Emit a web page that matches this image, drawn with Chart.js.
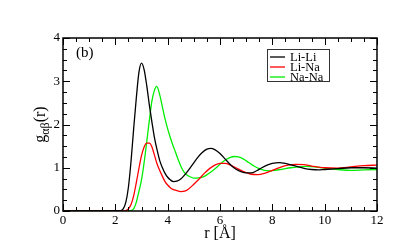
<!DOCTYPE html>
<html><head><meta charset="utf-8">
<script src="https://cdn.jsdelivr.net/npm/chart.js@4/dist/chart.umd.min.js"></script>
<style>html,body{margin:0;padding:0;background:#fff}#wrap{width:407px;height:249px}</style>
</head><body><div id="wrap"><canvas id="c" width="407" height="249"></canvas></div>
<script>
const seriesLabels = ["Li-Li", "Li-Na", "Na-Na"];
const seriesColors = ["#000000", "#ff0000", "#00ee00"];
const xTicks = [0, 2, 4, 6, 8, 10, 12];
const yTicks = [0, 1, 2, 3, 4];

const liLiR = [0,1,2.0,2.2,2.3,2.4,2.5,2.6,2.7,2.8,2.9,3.0,3.1,3.2,3.3,3.4,3.5,3.6,3.7,3.8,3.9,4.0,4.1,4.22,4.35,4.5,4.7,4.9,5.1,5.3,5.5,5.65,5.8,6.0,6.2,6.4,6.6,6.8,7.0,7.2,7.4,7.6,7.8,8.0,8.25,8.5,8.75,9.0,9.25,9.5,9.75,10,10.5,11,11.5,12];
const liLiG = [0,0,0,0.01,0.05,0.2,0.55,1.15,1.9,2.6,3.2,3.42,3.27,2.9,2.45,2.05,1.68,1.4,1.16,1.0,0.87,0.78,0.72,0.68,0.69,0.74,0.87,1.03,1.2,1.34,1.43,1.45,1.42,1.33,1.2,1.07,0.97,0.91,0.88,0.88,0.93,1.0,1.06,1.1,1.12,1.1,1.06,1.02,0.98,0.96,0.95,0.96,0.98,1.0,1.0,0.99];

const liNaR = [0,1,2.3,2.4,2.5,2.6,2.7,2.8,2.9,3.0,3.1,3.2,3.3,3.4,3.5,3.6,3.7,3.8,3.9,4.0,4.1,4.2,4.35,4.5,4.65,4.8,5.0,5.2,5.4,5.6,5.8,6.0,6.2,6.4,6.6,6.8,7.0,7.2,7.45,7.7,8.0,8.3,8.6,8.9,9.2,9.5,10,10.5,11,11.5,12];
const liNaG = [0,0,0,0.01,0.05,0.15,0.35,0.65,0.98,1.28,1.48,1.57,1.57,1.48,1.28,1.08,0.93,0.8,0.68,0.6,0.54,0.5,0.47,0.45,0.46,0.51,0.62,0.74,0.87,0.98,1.06,1.1,1.1,1.06,1.0,0.94,0.89,0.85,0.84,0.87,0.94,1.01,1.06,1.08,1.07,1.04,1.0,0.99,1.02,1.05,1.06];

const naNaR = [0,1,2.5,2.6,2.7,2.8,2.9,3.0,3.1,3.2,3.3,3.4,3.5,3.58,3.7,3.8,3.9,4.0,4.1,4.2,4.3,4.4,4.5,4.6,4.7,4.8,4.9,5.0,5.1,5.25,5.4,5.6,5.8,6.0,6.2,6.4,6.55,6.7,6.9,7.1,7.3,7.5,7.7,7.9,8.1,8.4,8.7,9.0,9.3,9.6,10,10.5,11,11.5,12];
const naNaG = [0,0,0,0.01,0.05,0.2,0.45,0.72,1.12,1.6,2.1,2.55,2.8,2.88,2.68,2.4,2.13,1.9,1.7,1.52,1.36,1.19,1.04,0.92,0.85,0.81,0.78,0.76,0.76,0.77,0.8,0.88,0.97,1.08,1.18,1.24,1.26,1.25,1.2,1.12,1.04,0.98,0.94,0.93,0.94,0.97,1.0,1.02,1.03,1.02,0.99,0.96,0.94,0.95,0.96];

const toPts = (r, g) => r.map((v, i) => ({x: v, y: g[i]}));
const allR = [liLiR, liNaR, naNaR];
const allG = [liLiG, liNaG, naNaG];

const SERIF = "'Liberation Serif','DejaVu Serif',serif";

const decor = {
  id: 'decor',
  afterDraw(chart) {
    const ctx = chart.ctx, a = chart.chartArea;
    const xs = chart.scales.x, ys = chart.scales.y;
    ctx.save();
    ctx.strokeStyle = '#000';
    ctx.lineWidth = 1;
    ctx.beginPath();
    for (let v = 0; v <= 12.0001; v += 0.5) {
      const px = Math.round(xs.getPixelForValue(v)) + 0.5;
      const major = Math.abs(v / 2 - Math.round(v / 2)) < 1e-6;
      const L = major ? 7 : 4;
      ctx.moveTo(px, a.bottom); ctx.lineTo(px, a.bottom - L);
      ctx.moveTo(px, a.top); ctx.lineTo(px, a.top + L);
    }
    for (let v = 0; v <= 4.0001; v += 0.25) {
      const py = Math.round(ys.getPixelForValue(v)) + 0.5;
      const major = Math.abs(v - Math.round(v)) < 1e-6;
      const L = major ? 7 : 4;
      ctx.moveTo(a.left, py); ctx.lineTo(a.left + L, py);
      ctx.moveTo(a.right, py); ctx.lineTo(a.right - L, py);
    }
    ctx.stroke();
    ctx.lineWidth = 1.5;
    ctx.strokeRect(a.left, a.top, a.right - a.left, a.bottom - a.top);
    ctx.fillStyle = '#000';
    ctx.font = '15px ' + SERIF;
    ctx.textBaseline = 'alphabetic';
    ctx.textAlign = 'left';
    ctx.fillText('(b)', 76, 57);
    ctx.lineWidth = 1;
    ctx.strokeStyle = '#333';
    ctx.strokeRect(267.5, 49.5, 62, 32);
    ctx.font = '12.5px ' + SERIF;
    chart.data.datasets.forEach((ds, i) => {
      const y = 57 + i * 10;
      ctx.strokeStyle = ds.borderColor;
      ctx.lineWidth = 1.3;
      ctx.beginPath(); ctx.moveTo(270, y); ctx.lineTo(285, y); ctx.stroke();
      ctx.fillStyle = '#000';
      ctx.textBaseline = 'middle';
      ctx.fillText(ds.label, 290, y + 0.5);
    });
    ctx.textAlign = 'center';
    ctx.textBaseline = 'alphabetic';
    ctx.font = '16px ' + SERIF;
    ctx.fillText('r [\u00C5]', (a.left + a.right) / 2, 238);
    ctx.translate(45, (a.top + a.bottom) / 2);
    ctx.rotate(-Math.PI / 2);
    ctx.textAlign = 'left';
    ctx.font = '16px ' + SERIF;
    const w1 = ctx.measureText('g').width;
    ctx.font = '12px ' + SERIF;
    const w2 = ctx.measureText('\u03B1\u03B2').width;
    ctx.font = '16px ' + SERIF;
    const w3 = ctx.measureText('(r)').width;
    const x0 = -(w1 + w2 + w3) / 2;
    ctx.fillText('g', x0, 0);
    ctx.font = '12px ' + SERIF;
    ctx.fillText('\u03B1\u03B2', x0 + w1, 4);
    ctx.font = '16px ' + SERIF;
    ctx.fillText('(r)', x0 + w1 + w2, 0);
    ctx.restore();
  }
};

new Chart(document.getElementById('c'), {
  type: 'scatter',
  data: {
    datasets: seriesLabels.map((lab, i) => ({
      label: lab,
      data: toPts(allR[i], allG[i]),
      showLine: true,
      borderColor: seriesColors[i],
      backgroundColor: seriesColors[i],
      borderWidth: 1.3,
      pointRadius: 0,
      cubicInterpolationMode: 'monotone',
      fill: false
    }))
  },
  options: {
    responsive: false,
    animation: false,
    devicePixelRatio: 1,
    layout: {padding: {top: 38, right: 30, left: 0, bottom: 0}},
    plugins: {legend: {display: false}, tooltip: {enabled: false}},
    scales: {
      x: {
        type: 'linear', min: 0, max: 12,
        afterBuildTicks: s => { s.ticks = xTicks.map(v => ({value: v})); },
        afterFit: s => { s.height = 38; },
        grid: {display: false, drawTicks: false},
        border: {display: false},
        ticks: {color: '#000', font: {family: SERIF, size: 13}, padding: 2, maxRotation: 0}
      },
      y: {
        type: 'linear', min: 0, max: 4,
        afterBuildTicks: s => { s.ticks = yTicks.map(v => ({value: v})); },
        afterFit: s => { s.width = 63; },
        grid: {display: false, drawTicks: false},
        border: {display: false},
        ticks: {color: '#000', font: {family: SERIF, size: 13}, padding: 3}
      }
    }
  },
  plugins: [decor]
});
</script></body></html>
